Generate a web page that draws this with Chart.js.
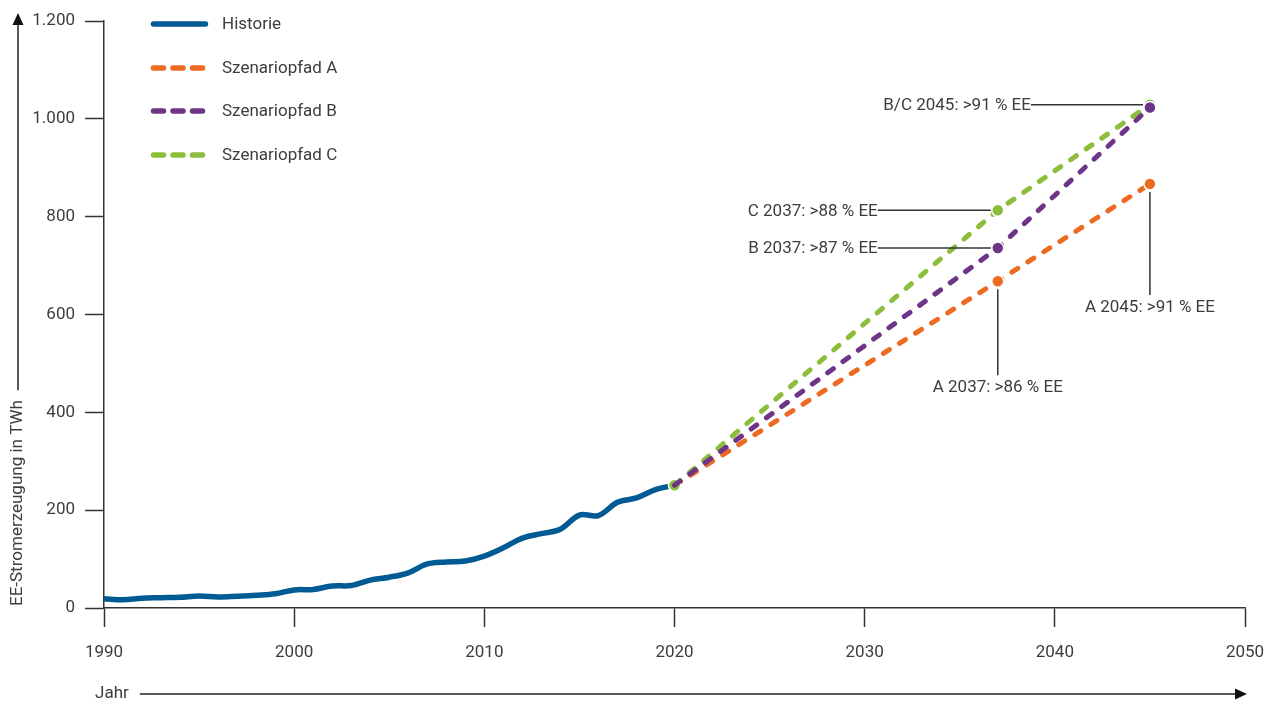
<!DOCTYPE html>
<html>
<head>
<meta charset="utf-8">
<script src="https://cdn.jsdelivr.net/npm/chart.js@4.4.1/dist/chart.umd.min.js"></script>
<style>
  html, body { margin: 0; padding: 0; background: #ffffff; }
  #wrap { width: 1272px; height: 702px; position: relative; }
</style>
</head>
<body>
<div id="wrap"><canvas id="chart" width="1272" height="702"></canvas></div>
<script>
// Renewable electricity generation in Germany (TWh), history and scenario paths
const historyYears = [1990, 1991, 1992, 1993, 1994, 1995, 1996, 1997, 1998, 1999,
                      2000, 2001, 2002, 2003, 2004, 2005, 2006, 2007, 2008, 2009,
                      2010, 2011, 2012, 2013, 2014, 2015, 2016, 2017, 2018, 2019, 2020];
const historyValues = [19, 17, 20, 21, 22, 24.5, 22.5, 24, 26, 29,
                       37, 38, 45, 46, 57, 63, 72, 90, 94, 96,
                       106, 123, 143, 152, 161, 190, 189, 216, 225, 242, 251];

const scenarioYears = [2020, 2037, 2045];
const scenarioA = [251, 668, 867];
const scenarioB = [251, 736, 1023];
const scenarioC = [251, 813, 1029];

const seriesNames = ['Historie', 'Szenariopfad A', 'Szenariopfad B', 'Szenariopfad C'];

const xTickValues = [1990, 2000, 2010, 2020, 2030, 2040, 2050];
const yTickValues = [0, 200, 400, 600, 800, 1000, 1200];

const xAxisTitle = 'Jahr';
const yAxisTitle = 'EE-Stromerzeugung in TWh';

// Callouts: dataset index, year of the marked point, text
const noteDataset = [3, 3, 2, 1, 1];
const noteYear = [2045, 2037, 2037, 2045, 2037];
const noteText = ['B/C 2045: >91 % EE', 'C 2037: >88 % EE', 'B 2037: >87 % EE',
                  'A 2045: >91 % EE', 'A 2037: >86 % EE'];

// ---- styling ----
const COLORS = ['#005a94', '#ed6a22', '#6e3487', '#8cbd3b'];
const TEXT = '#3d3d3d';
const AXIS = '#333333';
const FONT = 'Roboto, "Open Sans", sans-serif';
const FONT_SIZE = 17;

// Leader layout for each callout: 'left' = horizontal leader with text to the left,
// 'below' = vertical leader with text underneath
const noteLayout = [
  { kind: 'left', reach: 119 },
  { kind: 'left', reach: 120 },
  { kind: 'left', reach: 120 },
  { kind: 'below', reach: 103 },
  { kind: 'below', reach: 86 }
];

function pairs(xs, ys) { return xs.map((x, i) => ({ x: x, y: ys[i] })); }

const dashed = [7, 12];

function scenarioPointRadius(showFirst) {
  return ctx => (ctx.dataIndex === 0 && !showFirst) ? 0 : 6;
}

function scenario(i, values, showFirst, order) {
  return {
    label: seriesNames[i],
    data: pairs(scenarioYears, values),
    borderColor: COLORS[i],
    backgroundColor: COLORS[i],
    borderWidth: 5,
    borderDash: dashed,
    borderCapStyle: 'round',
    tension: 0,
    pointRadius: scenarioPointRadius(showFirst),
    pointBackgroundColor: COLORS[i],
    pointBorderColor: '#ffffff',
    pointBorderWidth: 1.5,
    order: order
  };
}

const datasets = [
  {
    label: seriesNames[0],
    data: pairs(historyYears, historyValues),
    borderColor: COLORS[0],
    borderWidth: 5.5,
    tension: 0.35,
    pointRadius: 0,
    borderCapStyle: 'round',
    borderJoinStyle: 'round',
    order: 4
  },
  scenario(1, scenarioA, false, 3),
  scenario(2, scenarioB, false, 1),
  scenario(3, scenarioC, true, 2)
];

// Legend, axis arrows, titles and callouts
const decorations = {
  id: 'decorations',
  afterDatasetsDraw(chart) {
    const ctx = chart.ctx;
    const xs = chart.scales.x, ys = chart.scales.y;
    ctx.save();
    ctx.font = FONT_SIZE + 'px ' + FONT;
    ctx.fillStyle = TEXT;
    ctx.textBaseline = 'middle';

    // legend
    const legendRows = [24, 68, 111, 155];
    chart.data.datasets.forEach((ds, i) => {
      const y = legendRows[i];
      ctx.save();
      ctx.strokeStyle = ds.borderColor;
      ctx.lineWidth = 5.5;
      ctx.lineCap = 'round';
      if (i > 0) ctx.setLineDash([10, 9.5]);
      ctx.beginPath();
      ctx.moveTo(153.5, y);
      ctx.lineTo(i > 0 ? 203 : 205.5, y);
      ctx.stroke();
      ctx.restore();
      ctx.textAlign = 'left';
      ctx.fillText(ds.label, 222, y + 1);
    });

    // callouts
    ctx.strokeStyle = AXIS;
    ctx.lineWidth = 1.5;
    noteText.forEach((txt, i) => {
      const ds = chart.data.datasets[noteDataset[i]];
      const pt = ds.data.find(p => p.x === noteYear[i]);
      const px = xs.getPixelForValue(pt.x);
      const py = ys.getPixelForValue(pt.y);
      const lay = noteLayout[i];
      if (lay.kind === 'left') {
        const textEnd = px - lay.reach;
        ctx.beginPath();
        ctx.moveTo(textEnd, py);
        ctx.lineTo(px - 7, py);
        ctx.stroke();
        ctx.textAlign = 'right';
        ctx.fillText(txt, textEnd, py + 1);
      } else {
        ctx.beginPath();
        ctx.moveTo(px, py + 8);
        ctx.lineTo(px, py + 8 + lay.reach);
        ctx.stroke();
        ctx.textAlign = 'center';
        ctx.fillText(txt, px, py + 8 + lay.reach + 13);
      }
    });

    // y axis title with arrow
    ctx.fillStyle = TEXT;
    const yTitleBottom = 606;
    const yTitleW = ctx.measureText(yAxisTitle).width;
    ctx.save();
    ctx.translate(17, yTitleBottom);
    ctx.rotate(-Math.PI / 2);
    ctx.textAlign = 'left';
    ctx.fillText(yAxisTitle, 0, 1);
    ctx.restore();
    ctx.strokeStyle = '#222';
    ctx.lineWidth = 1.5;
    ctx.beginPath();
    ctx.moveTo(18, yTitleBottom - yTitleW - 10);
    ctx.lineTo(18, 22);
    ctx.stroke();
    ctx.fillStyle = '#111';
    ctx.beginPath();
    ctx.moveTo(18, 13);
    ctx.lineTo(12.5, 25);
    ctx.lineTo(23.5, 25);
    ctx.closePath();
    ctx.fill();

    // x axis title with arrow
    ctx.fillStyle = TEXT;
    ctx.textAlign = 'left';
    ctx.fillText(xAxisTitle, 95, 694);
    const xTitleW = ctx.measureText(xAxisTitle).width;
    ctx.beginPath();
    ctx.moveTo(95 + xTitleW + 11, 694);
    ctx.lineTo(1238, 694);
    ctx.stroke();
    ctx.fillStyle = '#111';
    ctx.beginPath();
    ctx.moveTo(1247, 694);
    ctx.lineTo(1235, 688.5);
    ctx.lineTo(1235, 699.5);
    ctx.closePath();
    ctx.fill();

    ctx.restore();
  }
};

new Chart(document.getElementById('chart'), {
  type: 'line',
  data: { datasets: datasets },
  plugins: [decorations],
  options: {
    responsive: false,
    animation: false,
    devicePixelRatio: 1,
    layout: { padding: { left: 0, right: 27, top: 21, bottom: 0 } },
    plugins: {
      legend: { display: false },
      tooltip: { enabled: false }
    },
    scales: {
      x: {
        type: 'linear',
        min: xTickValues[0],
        max: xTickValues[xTickValues.length - 1],
        afterBuildTicks: s => { s.ticks = xTickValues.map(v => ({ value: v })); },
        afterFit: s => { s.height = 94; s.paddingLeft = 0; s.paddingRight = 0; },
        ticks: {
          callback: v => String(v),
          color: TEXT,
          font: { family: FONT, size: FONT_SIZE },
          padding: 16,
          maxRotation: 0
        },
        grid: {
          drawOnChartArea: false,
          drawTicks: true,
          tickLength: 19,
          tickWidth: 1.5,
          tickColor: AXIS
        },
        border: { display: true, color: AXIS, width: 1.5 }
      },
      y: {
        type: 'linear',
        min: yTickValues[0],
        max: yTickValues[yTickValues.length - 1],
        afterBuildTicks: s => { s.ticks = yTickValues.map(v => ({ value: v })); },
        afterFit: s => { s.width = 104; s.paddingTop = 0; s.paddingBottom = 0; },
        ticks: {
          callback: v => v.toLocaleString('de-DE'),
          color: TEXT,
          font: { family: FONT, size: FONT_SIZE },
          padding: 10
        },
        grid: {
          drawOnChartArea: false,
          drawTicks: true,
          tickLength: 19,
          tickWidth: 1.5,
          tickColor: AXIS
        },
        border: { display: true, color: AXIS, width: 1.5 }
      }
    }
  }
});
</script>
</body>
</html>
